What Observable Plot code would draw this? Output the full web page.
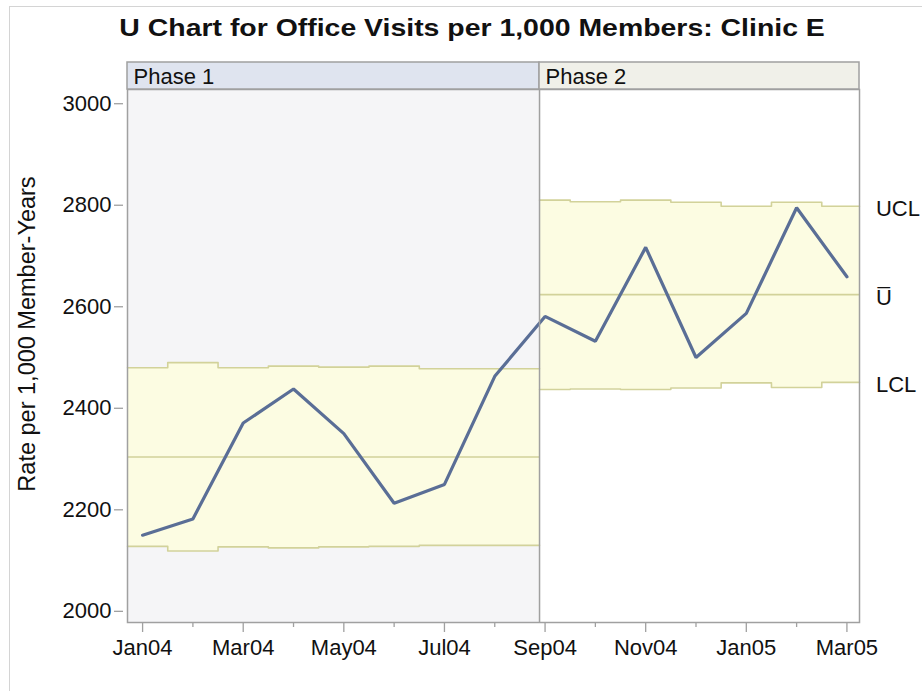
<!DOCTYPE html>
<html>
<head>
<meta charset="utf-8">
<script src="https://cdn.jsdelivr.net/npm/d3@7"></script>
<script src="https://cdn.jsdelivr.net/npm/@observablehq/plot@0.6"></script>
<style>
  body { margin: 0; background: #fff; font-family: "Liberation Sans", Arial, sans-serif; }
  #wrap { position: relative; width: 922px; height: 691px; overflow: hidden; background: #fff; }
  #border { position: absolute; left: 9px; top: 6px; width: 1200px; height: 1200px;
            border-left: 1px solid #d4d4d4; border-top: 1px solid #d4d4d4; }
  #title { position: absolute; left: 0; top: 16px; width: 922px; text-align: center;
           font-weight: bold; font-size: 24.5px; line-height: 24.5px; color: #111; }
  #title span { display: inline-block; transform: scaleX(1.16); margin-left: 22px; }
  #chart { position: absolute; left: 0; top: 55px; }
</style>
</head>
<body>
<div id="wrap">
  <div id="border"></div>
  <div id="title"><span>U Chart for Office Visits per 1,000 Members: Clinic E</span></div>
  <div id="chart"></div>
</div>
<script>
// ---- data ----
const months = ["Jan04","Feb04","Mar04","Apr04","May04","Jun04","Jul04","Aug04",
                "Sep04","Oct04","Nov04","Dec04","Jan05","Feb05","Mar05"];
const rates  = [2150, 2182, 2371, 2438, 2350, 2213, 2250, 2463,
                2581, 2532, 2717, 2500, 2587, 2795, 2659];
const ucl    = [2480, 2490, 2480, 2483, 2481, 2483, 2478, 2478,
                2810, 2807, 2810, 2806, 2798, 2806, 2798];
const lcl    = [2128, 2119, 2127, 2125, 2127, 2128, 2130, 2130,
                2437, 2438, 2437, 2440, 2450, 2441, 2451];
const phaseOfMonth = [1,1,1,1,1,1,1,1, 2,2,2,2,2,2,2];
const phaseNames   = ["Phase 1", "Phase 2"];
const phaseCenters = [2304, 2624];
const phaseStarts  = [-0.3, 7.89];   // in month-index units
const phaseEnds    = [7.89, 14.25];
const yTicks = [2000, 2200, 2400, 2600, 2800, 3000];
const xMajorTicks = [0, 2, 4, 6, 8, 10, 12, 14];
const xMinorTicks = [1, 3, 5, 7, 9, 11, 13];
const yLabel = "Rate per 1,000 Member-Years";
const limitLabels = ["UCL", "U\u0305", "LCL"];

// ---- build tables ----
const rows = months.map((m, i) => ({i, month: m, rate: rates[i], ucl: ucl[i], lcl: lcl[i], phase: phaseOfMonth[i]}));
const phases = phaseNames.map((name, k) => ({
  name, phase: k + 1, start: phaseStarts[k], end: phaseEnds[k], center: phaseCenters[k],
  bg: k === 0 ? "#f5f5f7" : "#ffffff",
  hdr: k === 0 ? "#dfe4ef" : "#f0f0e9"
}));
const limits = [];
phases.forEach(p => {
  const r = rows.filter(d => d.phase === p.phase);
  limits.push({x: p.start, ucl: r[0].ucl, lcl: r[0].lcl, phase: p.phase});
  r.forEach(d => limits.push({x: d.i, ucl: d.ucl, lcl: d.lcl, phase: p.phase}));
  limits.push({x: p.end, ucl: r[r.length-1].ucl, lcl: r[r.length-1].lcl, phase: p.phase});
});
const last = rows[rows.length - 1];
const endLabels = [
  {label: limitLabels[0], x: last.i, y: last.ucl},
  {label: limitLabels[1], x: last.i, y: phaseCenters[1]},
  {label: limitLabels[2], x: last.i, y: last.lcl}
];

const H = 636, MT = 34, MB = 69;
const frameH = H - MT - MB;
const font = "'Liberation Sans', Arial, sans-serif";
const band = "#d2d29a";
const axisGray = "#a0a0a0";

const chart = Plot.plot({
  width: 922, height: H,
  marginTop: MT, marginBottom: MB, marginLeft: 127, marginRight: 63,
  style: {fontFamily: font, background: "transparent", color: "#111"},
  x: {domain: [phaseStarts[0], phaseEnds[1]], axis: null},
  y: {domain: [1978, 3028], axis: null},
  marks: [
    Plot.rect(phases, {x1: "start", x2: "end", fill: "bg"}),
    Plot.areaY(limits, {x: "x", y1: "lcl", y2: "ucl", z: "phase", curve: "step", fill: "#fcfce2"}),
    Plot.line(limits, {x: "x", y: "ucl", z: "phase", curve: "step", stroke: band, strokeWidth: 1.6}),
    Plot.line(limits, {x: "x", y: "lcl", z: "phase", curve: "step", stroke: band, strokeWidth: 1.6}),
    Plot.ruleY(phases, {y: "center", x1: "start", x2: "end", stroke: band, strokeWidth: 1.6}),
    Plot.line(rows, {x: "i", y: "rate", stroke: "#5a6e96", strokeWidth: 3.2, strokeLinejoin: "miter"}),
    Plot.ruleX(phases.slice(1), {x: "start", stroke: axisGray, strokeWidth: 1.5}),
    Plot.frame({stroke: axisGray, strokeWidth: 1.5}),
    // phase header strip
    Plot.rect(phases, {x1: "start", x2: "end", fill: "hdr", stroke: axisGray, strokeWidth: 1.5,
                       insetTop: -27, insetBottom: frameH}),
    Plot.text(phases, {x: "start", text: "name", frameAnchor: "top", textAnchor: "start",
                       lineAnchor: "middle", dx: 6, dy: -13, fontSize: 22, fill: "#111"}),
    // y axis
    Plot.axisY(yTicks, {anchor: "left", label: null, tickSize: 9, tickPadding: 3, dx: -4,
                        fontSize: 22, stroke: axisGray, strokeWidth: 1.3, fill: "#111",
                        tickFormat: d => String(d)}),
    // x axis
    Plot.axisX(xMinorTicks, {anchor: "bottom", label: null, tickSize: 5, tickFormat: () => "",
                             stroke: axisGray, strokeWidth: 1.3}),
    Plot.axisX(xMajorTicks, {anchor: "bottom", label: null, tickSize: 10, tickPadding: 7,
                             fontSize: 22, stroke: axisGray, strokeWidth: 1.3, fill: "#111",
                             tickFormat: i => months[i]}),
    // y label
    Plot.text([yLabel], {frameAnchor: "left", textAnchor: "middle", lineAnchor: "middle",
                         rotate: -90, dx: -100, dy: -22, fontSize: 23.5, fill: "#111"}),
    // limit labels
    Plot.text(endLabels, {x: "x", y: "y", text: "label", textAnchor: "start", dx: 29, dy: 3, fontSize: 22, fill: "#111"})
  ]
});
document.getElementById("chart").appendChild(chart);
</script>
</body>
</html>
